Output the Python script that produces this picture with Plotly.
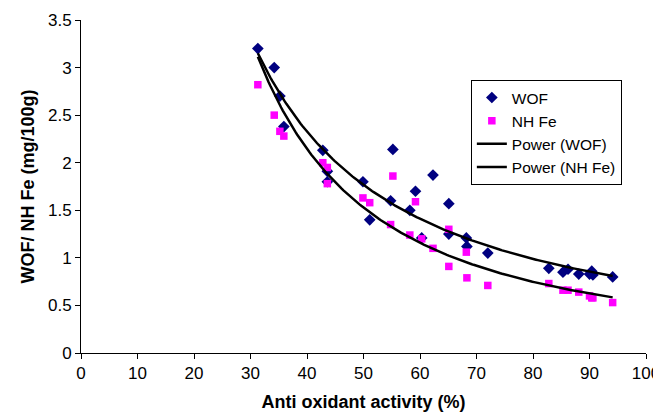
import numpy as np
import plotly.graph_objects as go

# Data
activity = [31.3, 34.2, 35.2, 35.9, 42.8, 43.6, 43.6, 49.9, 51.1, 54.8, 55.2, 58.2, 59.2, 60.3,
            62.3, 65.1, 65.1, 68.2, 68.3, 72.0, 82.8, 85.3, 86.2, 88.1, 90.0, 90.4, 90.6, 94.1]
wof = [3.20, 3.00, 2.70, 2.38, 2.13, 1.91, 1.80, 1.80, 1.40, 1.60, 2.14, 1.50, 1.70, 1.21,
       1.87, 1.57, 1.25, 1.21, 1.12, 1.05, 0.89, 0.85, 0.88, 0.83, 0.83, 0.86, 0.82, 0.80]
nhfe = [2.82, 2.50, 2.33, 2.28, 2.00, 1.95, 1.78, 1.63, 1.58, 1.35, 1.86, 1.24, 1.59, 1.20,
        1.10, 0.91, 1.30, 1.06, 0.79, 0.71, 0.73, 0.66, 0.66, 0.64, 0.60, 0.58, 0.58, 0.53]

x_ticks = [0, 10, 20, 30, 40, 50, 60, 70, 80, 90, 100]
y_ticks = [0, 0.5, 1, 1.5, 2, 2.5, 3, 3.5]


def power_fit(x, y):
    x = np.asarray(x, float)
    y = np.asarray(y, float)
    b, ln_a = np.polyfit(np.log(x), np.log(y), 1)
    xs = np.linspace(x.min(), x.max(), 200)
    return xs, np.exp(ln_a) * xs ** b


FONT = "Liberation Sans, Arial, sans-serif"

fig = go.Figure()
fig.add_trace(go.Scatter(x=activity, y=wof, mode="markers", name="WOF",
                         marker=dict(symbol="diamond", size=9, color="#000080")))
fig.add_trace(go.Scatter(x=activity, y=nhfe, mode="markers", name="NH Fe",
                         marker=dict(symbol="square", size=7.5, color="#FF00FF")))
xs, ys = power_fit(activity, wof)
fig.add_trace(go.Scatter(x=xs, y=ys, mode="lines", name="Power (WOF)",
                         line=dict(color="black", width=2.5)))
xs, ys = power_fit(activity, nhfe)
fig.add_trace(go.Scatter(x=xs, y=ys, mode="lines", name="Power (NH Fe)",
                         line=dict(color="black", width=2.5)))

fig.update_layout(
    width=653, height=407,
    margin=dict(l=73, r=15, t=12, b=62, autoexpand=False),
    paper_bgcolor="white", plot_bgcolor="white",
    font=dict(family=FONT, size=17, color="black"),
    legend=dict(x=0.69, y=0.82, xanchor="left", yanchor="top",
                bordercolor="black", borderwidth=1, bgcolor="white",
                font=dict(size=15.5), tracegroupgap=0, itemwidth=30),
    showlegend=True,
)
fig.update_xaxes(range=[0, 100], tickvals=x_ticks, showgrid=False, zeroline=False,
                 showline=True, linecolor="black", linewidth=1, automargin=False,
                 ticks="outside", ticklen=5, tickcolor="black",
                 title=dict(text="<b>Anti oxidant activity (%)</b>", font=dict(size=18), standoff=12))
fig.update_yaxes(range=[0, 3.5], tickvals=y_ticks, showgrid=False, zeroline=False,
                 showline=True, linecolor="black", linewidth=1, automargin=False,
                 ticks="outside", ticklen=5, tickcolor="black",
                 title=dict(text="<b>WOF/ NH Fe (mg/100g)</b>", font=dict(size=18), standoff=8))

fig.write_html("out.html")
